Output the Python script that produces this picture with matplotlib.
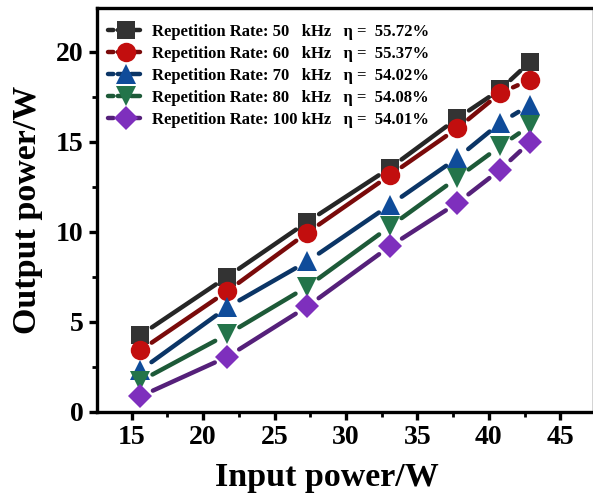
import matplotlib
matplotlib.use("Agg")
import matplotlib.pyplot as plt
from matplotlib.lines import Line2D
from matplotlib.ticker import MultipleLocator

plt.rcParams['font.family'] = ['Liberation Serif', 'DejaVu Serif']
plt.rcParams['font.weight'] = 'bold'

# data
input_power = [15.6, 21.7, 27.3, 33.1, 37.8, 40.8, 42.9]
p_50k = [4.25, 7.5, 10.55, 13.55, 16.3, 17.9, 19.45]
p_60k = [3.4, 6.7, 9.95, 13.15, 15.75, 17.7, 18.45]
p_70k = [2.3, 5.8, 8.35, 11.5, 14.1, 16.05, 17.05]
p_80k = [1.7, 4.3, 6.95, 10.3, 13.0, 14.75, 15.9]
p_100k = [0.85, 3.05, 5.85, 9.2, 11.6, 13.45, 15.0]

series = [p_50k, p_60k, p_70k, p_80k, p_100k]
labels = ['Repetition Rate: 50   kHz   \u03b7 =  55.72%',
          'Repetition Rate: 60   kHz   \u03b7 =  55.37%',
          'Repetition Rate: 70   kHz   \u03b7 =  54.02%',
          'Repetition Rate: 80   kHz   \u03b7 =  54.08%',
          'Repetition Rate: 100 kHz   \u03b7 =  54.01%']
line_colors = ['#262626', '#7a0a0a', '#0b3566', '#1d5a38', '#55207a']
marker_colors = ['#333333', '#c20e0e', '#0f4c9a', '#23744a', '#7e2fbd']
markers = ['s', 'o', '^', 'v', 'D']
msizes = [13, 14, 14, 14, 12]

fig = plt.figure(figsize=(5.93, 4.96), dpi=100)
ax = fig.add_axes([0.163, 0.170, 0.835, 0.813])

for ys, lc, mc, mk, ms in zip(series, line_colors, marker_colors, markers, msizes):
    # connecting lines with a gap around each symbol
    for i in range(len(input_power) - 1):
        ax.annotate('', xy=(input_power[i + 1], ys[i + 1]), xytext=(input_power[i], ys[i]),
                    arrowprops=dict(arrowstyle='-', color=lc, lw=3.2, shrinkA=10, shrinkB=10,
                                    capstyle='round'))
    ax.plot(input_power, ys, linestyle='none', marker=mk, markersize=ms,
            color=mc, markeredgewidth=0, zorder=3)

handles = [Line2D([], [], color=lc, lw=3.2, linestyle=(0.8, (2.0, 1.0)),
                  dash_capstyle='round',
                  marker=mk, markersize=ms, markerfacecolor=mc, markeredgewidth=0)
           for lc, mc, mk, ms in zip(line_colors, marker_colors, markers, msizes)]
leg = ax.legend(handles, labels, loc='upper left', frameon=False,
                prop={'weight': 'bold', 'size': 12}, handlelength=2.2,
                handletextpad=0.45, labelspacing=0.36, borderaxespad=0.55,
                bbox_to_anchor=(-0.01, 1.0))

ax.set_xlim(12.55, 47.2)
ax.set_ylim(0, 22.4)
ax.xaxis.set_major_locator(MultipleLocator(5))
ax.xaxis.set_minor_locator(MultipleLocator(2.5))
ax.yaxis.set_major_locator(MultipleLocator(5))
ax.yaxis.set_minor_locator(MultipleLocator(2.5))

for side in ['left', 'bottom', 'top']:
    ax.spines[side].set_linewidth(2.4)
    ax.spines[side].set_color('black')
ax.spines['right'].set_linewidth(0.6)
ax.spines['right'].set_color('#cccccc')

ax.tick_params(which='major', direction='out', length=6, width=2.4, labelsize=20,
               top=False, right=False)
ax.tick_params(which='minor', direction='out', length=3.5, width=2.0,
               top=False, right=False)
for lab in ax.get_xticklabels() + ax.get_yticklabels():
    lab.set_fontweight('bold')

ax.set_xlabel('Input power/W', fontsize=24.5, fontweight='bold')
ax.set_ylabel('Output power/W', fontsize=24.5, fontweight='bold')
ax.xaxis.set_label_coords(0.465, -0.125)
ax.yaxis.set_label_coords(-0.108, 0.5)

fig.savefig('out.png', dpi=100)
